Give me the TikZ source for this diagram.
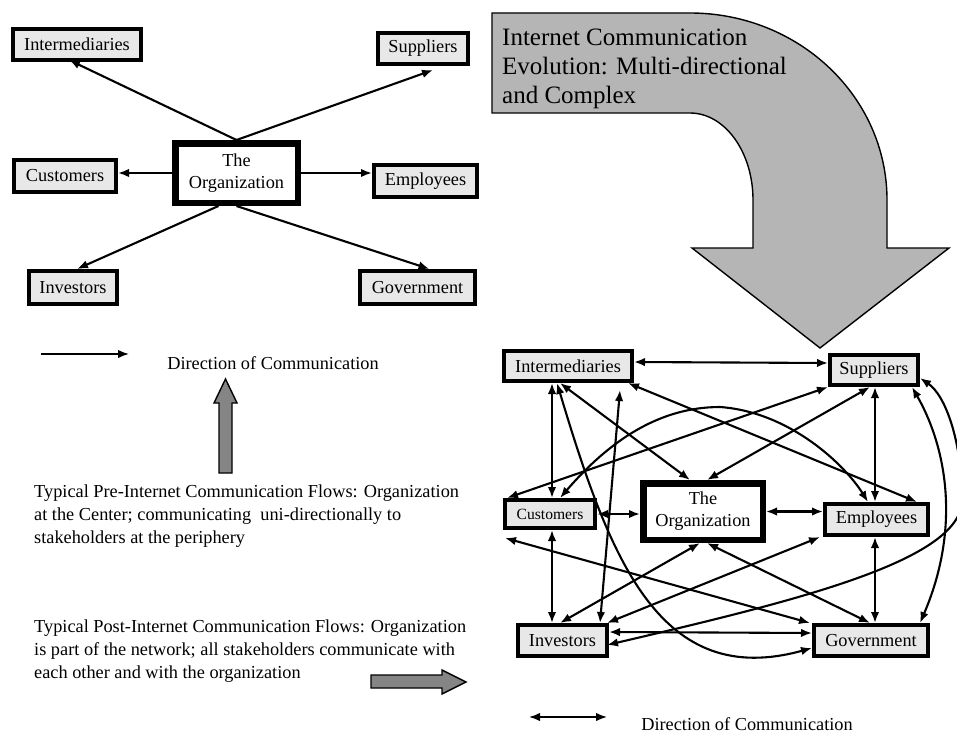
\documentclass[tikz,border=0pt]{standalone}
\usepackage{fontspec}
\setmainfont{Liberation Serif}
\usetikzlibrary{arrows.meta,calc}

\newcommand\fBox{\fontsize{18.3pt}{22pt}\selectfont}
\newcommand\fSmallBox{\fontsize{15.6pt}{19pt}\selectfont}
\newcommand\fTitle{\fontsize{25pt}{29pt}\selectfont}
\newcommand\fNote{\fontsize{18.3pt}{22.8pt}\selectfont}

\definecolor{boxgrey}{gray}{0.91}
\definecolor{bandgrey}{gray}{0.71}
\definecolor{blockgrey}{gray}{0.52}

\tikzset{
  stake/.style={draw, line width=4pt, fill=boxgrey, inner sep=0pt, font=\fBox},
  org/.style={draw, line width=6.5pt, fill=white, inner sep=0pt, align=center, font=\fBox},
  tip/.tip={Latex[length=11pt,width=8.5pt]},
  flow/.style={line width=2.1pt, -tip},
  both/.style={line width=2.1pt, tip-tip},
  block/.style={draw, line width=1.4pt, fill=blockgrey, line join=miter},
  note/.style={anchor=north west, inner sep=0pt, align=left, font=\fNote},
}

\begin{document}
\begin{tikzpicture}[x=1pt,y=-1pt]
\useasboundingbox (0,0) rectangle (957,733);
\fill[white] (0,0) rectangle (957,733);

% ---------- one-way model: organization at the centre ----------
\node[stake, minimum width=128pt, minimum height=31pt] (lInt) at (77,44.5) {Intermediaries};
\node[stake, minimum width=90pt,  minimum height=31pt] (lSup) at (423,48.5) {Suppliers};
\node[org,   minimum width=122.5pt, minimum height=59.5pt] (lOrg) at (236.5,173) {The\\Organization};
\node[stake, minimum width=102pt, minimum height=32pt] (lCus) at (65,176) {Customers};
\node[stake, minimum width=103pt, minimum height=32pt] (lEmp) at (425.5,181) {Employees};
\node[stake, minimum width=88pt,  minimum height=33pt] (lInv) at (73,287.5) {Investors};
\node[stake, minimum width=115pt, minimum height=33pt] (lGov) at (417.5,287.5) {Government};

\draw[flow] (lOrg.north) -- ($(lInt.south)+(-8,-2)$);
\draw[flow] (lOrg.north) -- ($(lSup.south)+(10,4)$);
\draw[flow] (lOrg.west) -- (lOrg.west -| lCus.east);
\draw[flow] (lOrg.east) -- (lOrg.east -| lEmp.west);
\draw[flow] ($(lOrg.south)+(-18,0)$) -- ($(lInv.north)+(4,0)$);
\draw[flow] (lOrg.south) -- ($(lGov.north)+(12,0)$);

% legend for the one-way model
\coordinate (lgA) at (41,354);
\coordinate (lgB) at (129,354);
\draw[flow, line width=1.7pt] (lgA) -- (lgB);
\node[font=\fNote] (lgText) at (273,363) {Direction of Communication};

% upward block arrow
\path[block] (219,473) -- (219,403) -- (214,403) -- (225.5,379) -- (237,403)
  -- (232,403) -- (232,473) -- cycle;

\node[note] (preText) at (34,484.5)
  {Typical Pre-Internet Communication Flows: Organization\\
   at the Center; communicating\ \ uni-directionally to\\
   stakeholders at the periphery};

\node[note] (postText) at (34,619.5)
  {Typical Post-Internet Communication Flows: Organization\\
   is part of the network; all stakeholders communicate with\\
   each other and with the organization};

% rightward block arrow
\path[block] (371,675) -- (442,675) -- (442,670) -- (466,682) -- (442,694)
  -- (442,688) -- (371,688) -- cycle;

% ---------- curved evolution arrow ----------
\path[draw, line width=1.4pt, fill=bandgrey, line join=miter]
  (492,13) -- (690,13)
  arc[start angle=-90, end angle=0, x radius=197, y radius=187]
  -- (887,248) -- (949,248) -- (820,348) -- (692,248) -- (753,248) -- (753,200)
  arc[start angle=0, end angle=-90, x radius=63, y radius=87]
  -- (492,113) -- cycle;
\node[anchor=north west, inner sep=0pt, align=left, font=\fTitle] (evoText) at (502,28.5)
  {Internet Communication\\Evolution: Multi-directional\\and Complex};

% ---------- network model: everyone communicates ----------
\node[stake, minimum width=128pt, minimum height=30pt] (rInt) at (568,366) {Intermediaries};
\node[stake, minimum width=88pt,  minimum height=30pt] (rSup) at (874,370) {Suppliers};
\node[stake, minimum width=90pt,  minimum height=28pt, font=\fSmallBox] (rCus) at (550,514) {Customers};
\node[org,   minimum width=119.5pt, minimum height=56.5pt] (rOrg) at (703,511.5) {The\\Organization};
\node[stake, minimum width=103pt, minimum height=31pt] (rEmp) at (876.5,519.5) {Employees};
\node[stake, minimum width=89pt,  minimum height=31pt] (rInv) at (562.5,640.5) {Investors};
\node[stake, minimum width=114pt, minimum height=31pt] (rGov) at (871,640.5) {Government};

% intermediaries
\draw[both] ($(rInt.east)+(0,-4)$) -- ($(rSup.west)+(0,-7)$);
\draw[both] ($(rInt.south west)+(50,0)$) -- ($(rCus.north west)+(49,0)$);
\draw[both] ($(rInt.south west)+(55,0)$) .. controls (610,560) and (660,690) .. ($(rGov.west)+(0,7.5)$);
\draw[both] ($(rInt.south west)+(58,0)$) -- ($(rOrg.north west)+(50,0)$);
\draw[both] ($(rInt.south west)+(118,7)$) -- ($(rInv.north west)+(84,0)$);
\draw[both] ($(rInt.south east)+(-6,0)$) -- ($(rEmp.north east)+(-13,0)$);
% customers
\draw[both] ($(rCus.north west)+(57,0)$) .. controls (610,440) and (660,407) .. (720,407)
  .. controls (790,412) and (845,465) .. ($(rEmp.north west)+(45,0)$);
\draw[both] ($(rCus.north west)+(4,0)$) -- (rSup.south west);
\draw[both] (rCus.east) -- (rCus.east -| rOrg.west);
\draw[both] ($(rCus.south west)+(49,0)$) -- ($(rInv.north west)+(36,0)$);
\draw[both] ($(rCus.south west)+(2,8)$) -- ($(rGov.north west)+(-2,0)$);
% suppliers
\draw[both] ($(rSup.south)+(-4,0)$) -- ($(rOrg.north)+(4,0)$);
\draw[both] ($(rSup.south)+(1,0)$) -- ($(rEmp.north west)+(52,0)$);
\draw[both] ($(rInv.east)+(-2,4.5)$) .. controls (800,600) and (962,560) .. (962,500)
  .. controls (962,440) and (945,395) .. ($(rSup.east)+(0,8)$);
\draw[both] ($(rSup.south east)+(-8,0)$) .. controls (948,450) and (960,530) .. ($(rGov.north east)+(-10,0)$);
% organization, employees, investors, government
\draw[both] (rOrg.east) -- (rOrg.east -| rEmp.west);
\draw[both] ($(rInv.north west)+(44,0)$) -- ($(rOrg.south)+(-3,0)$);
\draw[both] ($(rOrg.south)+(4,0)$) -- ($(rGov.north)+(-1,0)$);
\draw[both] ($(rInv.north east)+(-2,0)$) -- ($(rEmp.south west)+(-3,0)$);
\draw[both] ($(rEmp.south west)+(52,0)$) -- ($(rGov.north west)+(63,0)$);
\draw[both] ($(rInv.east)+(0,-8.5)$) -- ($(rGov.west)+(0,-7.5)$);

% legend for the network model
\coordinate (lgC) at (529,717);
\coordinate (lgD) at (607,717);
\draw[both, line width=1.7pt] (lgC) -- (lgD);
\node[font=\fNote] (lgText2) at (747,724) {Direction of Communication};
\end{tikzpicture}
\end{document}
